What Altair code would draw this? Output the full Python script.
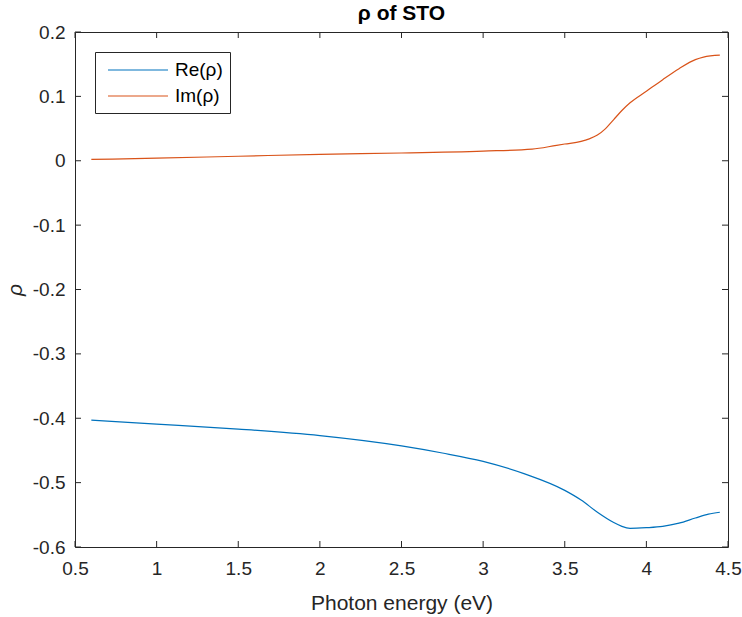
import altair as alt
import pandas as pd

# ---- data ----
re_energy = [0.6, 1.0, 1.5, 2.0, 2.5, 2.75, 3.0, 3.25, 3.5, 3.6, 3.7, 3.8, 3.85, 3.9, 4.0, 4.1, 4.2, 4.3, 4.38, 4.45]
re_values = [-0.403, -0.409, -0.4168, -0.427, -0.443, -0.454, -0.467, -0.486, -0.512, -0.527, -0.546, -0.562, -0.568, -0.571, -0.570, -0.568, -0.563, -0.555, -0.549, -0.546]

im_energy = [0.6, 1.0, 1.5, 2.0, 2.5, 3.0, 3.3, 3.45, 3.5, 3.6, 3.65, 3.7, 3.75, 3.8, 3.85, 3.9, 4.0, 4.1, 4.2, 4.3, 4.35, 4.45]
im_values = [0.002, 0.004, 0.007, 0.010, 0.012, 0.015, 0.018, 0.024, 0.026, 0.030, 0.034, 0.040, 0.050, 0.064, 0.078, 0.090, 0.108, 0.126, 0.143, 0.157, 0.161, 0.164]

series_names = ["Re(ρ)", "Im(ρ)"]
series_colors = ["#0072BD", "#D95319"]

x_ticks = [0.5, 1, 1.5, 2, 2.5, 3, 3.5, 4, 4.5]
y_ticks = [-0.6, -0.5, -0.4, -0.3, -0.2, -0.1, 0, 0.1, 0.2]

X_TITLE = "Photon energy (eV)"
Y_TITLE = "ρ"

W, H = 653, 515
TICK = 6
AXC = "#262626"
FONT = "Liberation Sans"

df = pd.DataFrame({
    "energy": re_energy + im_energy,
    "rho": re_values + im_values,
    "series": [series_names[0]] * len(re_energy) + [series_names[1]] * len(im_energy),
})
xt = pd.DataFrame({"v": x_ticks})
yt = pd.DataFrame({"v": y_ticks})

xscale = alt.Scale(domain=[0.5, 4.5], nice=False, zero=False)
yscale = alt.Scale(domain=[-0.6, 0.2], nice=False, zero=False)

lbl = "replace(format(datum.value, '~g'), '\u2212', '-')"

x_axis = alt.Axis(values=x_ticks, labelExpr=lbl, ticks=False, domain=False, grid=False,
                  labelPadding=12, titlePadding=14, labelFlush=False)
y_axis = alt.Axis(values=y_ticks, labelExpr=lbl, ticks=False, domain=False, grid=False,
                  labelPadding=10, titlePadding=7, titleFontStyle="italic", labelFlush=False)

lines = alt.Chart(df).mark_line(interpolate="monotone", strokeWidth=1.2, clip=True).encode(
    x=alt.X("energy:Q", scale=xscale, axis=x_axis, title=X_TITLE),
    y=alt.Y("rho:Q", scale=yscale, axis=y_axis, title=Y_TITLE),
    color=alt.Color("series:N", scale=alt.Scale(domain=series_names, range=series_colors),
                    legend=alt.Legend(title=None, orient="none", legendX=20, legendY=20,
                                      symbolType="M-1,0H5", symbolSize=400,
                                      symbolStrokeWidth=1.2, labelOffset=46,
                                      symbolOffset=5, padding=7, rowPadding=5,
                                      strokeColor=AXC, fillColor="white",
                                      labelFont=FONT, labelFontSize=19, labelColor="black")),
)

bt = alt.Chart(xt).mark_rule(color=AXC).encode(
    x=alt.X("v:Q", scale=xscale, axis=x_axis, title=X_TITLE), y=alt.value(H), y2=alt.value(H - TICK))
tt = alt.Chart(xt).mark_rule(color=AXC).encode(
    x=alt.X("v:Q", scale=xscale, axis=x_axis, title=X_TITLE), y=alt.value(0), y2=alt.value(TICK))
lt = alt.Chart(yt).mark_rule(color=AXC).encode(
    y=alt.Y("v:Q", scale=yscale, axis=y_axis, title=Y_TITLE), x=alt.value(0), x2=alt.value(TICK))
rt = alt.Chart(yt).mark_rule(color=AXC).encode(
    y=alt.Y("v:Q", scale=yscale, axis=y_axis, title=Y_TITLE), x=alt.value(W - TICK), x2=alt.value(W))

chart = alt.layer(lines, bt, tt, lt, rt).properties(
    width=W, height=H,
    title=alt.TitleParams("ρ of STO", fontSize=21, fontWeight="bold", font=FONT,
                          color="black", anchor="middle", offset=-1),
    autosize=alt.AutoSizeParams(type="none"),
    padding={"left": 75, "top": 32, "right": 14, "bottom": 70},
).configure_view(
    stroke=AXC, strokeWidth=1
).configure_axis(
    labelFont=FONT, labelFontSize=19, labelColor=AXC,
    titleFont=FONT, titleFontSize=21, titleColor=AXC, titleFontWeight="normal",
)

chart.save("out.html", embed_options={"renderer": "svg", "actions": False})
